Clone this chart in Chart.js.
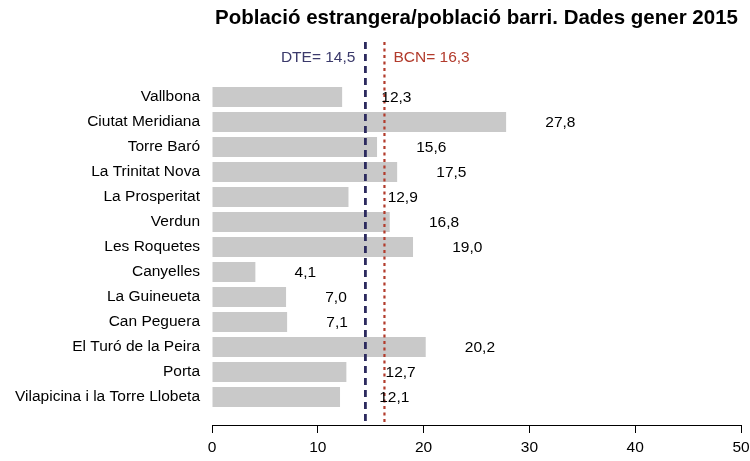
<!DOCTYPE html>
<html>
<head>
<meta charset="utf-8">
<script src="https://cdn.jsdelivr.net/npm/chart.js@4/dist/chart.umd.min.js"></script>
<style>
  html, body { margin: 0; padding: 0; background: #fff; }
  #wrap { width: 750px; height: 461px; }
</style>
</head>
<body>
<div id="wrap"><canvas id="chart" width="750" height="461"></canvas></div>
<script>
const neighborhoods = [
    'Vallbona', 'Ciutat Meridiana', 'Torre Baró', 'La Trinitat Nova', 'La Prosperitat',
    'Verdun', 'Les Roquetes', 'Canyelles', 'La Guineueta', 'Can Peguera',
    'El Turó de la Peira', 'Porta', 'Vilapicina i la Torre Llobeta'
];
const foreignPct = [12.3, 27.8, 15.6, 17.5, 12.9, 16.8, 19.0, 4.1, 7.0, 7.1, 20.2, 12.7, 12.1];
const xTicks = [0, 10, 20, 30, 40, 50];
const dteValue = 14.5;
const bcnValue = 16.3;

const FONT = "'Liberation Sans', Arial, sans-serif";
const NAVY = '#2c2a5e';
const RED = '#b23b2c';
const Y_TOP = -2.2;
const Y_BOTTOM = 13.12;
const LABEL_GAP = 3.7; // value labels sit this many units past the bar end

const fmt = v => v.toFixed(1).replace('.', ',');

// === PLUGINS ===
const valueLabels = {
    id: 'valueLabels',
    afterDatasetsDraw(chart) {
        const { ctx, scales: { x, y } } = chart;
        ctx.save();
        ctx.font = `15.5px ${FONT}`;
        ctx.fillStyle = '#000';
        ctx.textAlign = 'left';
        ctx.textBaseline = 'middle';
        foreignPct.forEach((v, i) => {
            ctx.fillText(fmt(v), x.getPixelForValue(v + LABEL_GAP), y.getPixelForValue(i) + 1);
        });
        // reference line captions
        const ly = y.getPixelForValue(-1.56);
        ctx.textAlign = 'right';
        ctx.fillStyle = '#3b3a6b';
        ctx.fillText('DTE= ' + fmt(dteValue), x.getPixelForValue(dteValue) - 10, ly);
        ctx.textAlign = 'left';
        ctx.fillStyle = RED;
        ctx.fillText('BCN= ' + fmt(bcnValue), x.getPixelForValue(bcnValue) + 9, ly);
        ctx.restore();
    }
};

function refLine(value, color, dash, width) {
    return {
        type: 'line',
        data: [{ x: value, y: Y_TOP }, { x: value, y: Y_BOTTOM }],
        borderColor: color,
        borderWidth: width,
        borderDash: dash,
        pointRadius: 0,
        fill: false,
        order: 0,
    };
}

new Chart(document.getElementById('chart').getContext('2d'), {
    type: 'bar',
    data: {
        datasets: [
            {
                data: foreignPct.map((v, i) => ({ x: v, y: i })),
                backgroundColor: '#c9c9c9',
                borderWidth: 0,
                barPercentage: 0.8,
                categoryPercentage: 1,
                order: 1,
            },
            refLine(dteValue, NAVY, [7, 5], 2.8),
            refLine(bcnValue, RED, [3, 3.5], 2.2),
        ]
    },
    options: {
        indexAxis: 'y',
        responsive: false,
        animation: false,
        layout: { padding: 0 },
        plugins: {
            legend: { display: false },
            tooltip: { enabled: false },
            title: {
                display: true,
                text: 'Població estrangera/població barri. Dades gener 2015',
                color: '#000',
                font: { family: FONT, size: 20.5, weight: 'bold' },
                align: 'center',
                padding: { top: 6, bottom: 11.4 },
                fullSize: false,
            }
        },
        scales: {
            x: {
                type: 'linear',
                min: 0,
                max: 50,
                afterBuildTicks: s => { s.ticks = xTicks.map(v => ({ value: v })); },
                afterFit: s => { s.height = 36; s.paddingRight = 9; },
                grid: { drawOnChartArea: false, tickLength: 8, color: '#000', tickColor: '#000' },
                border: { display: true, color: '#000', width: 1 },
                ticks: { color: '#000', font: { family: FONT, size: 15.5 }, padding: 5.7, maxRotation: 0 },
            },
            y: {
                type: 'linear',
                reverse: true,
                offset: false,
                min: Y_TOP,
                max: Y_BOTTOM,
                afterBuildTicks: s => { s.ticks = neighborhoods.map((_, i) => ({ value: i })); },
                afterFit: s => { s.width = 212; s.paddingTop = 0; s.paddingBottom = 0; },
                grid: { display: false },
                border: { display: false },
                ticks: {
                    color: '#000',
                    font: { family: FONT, size: 15.5 },
                    padding: 4,
                    autoSkip: false,
                    callback: v => neighborhoods[v],
                },
            }
        }
    },
    plugins: [valueLabels]
});
</script>
</body>
</html>
